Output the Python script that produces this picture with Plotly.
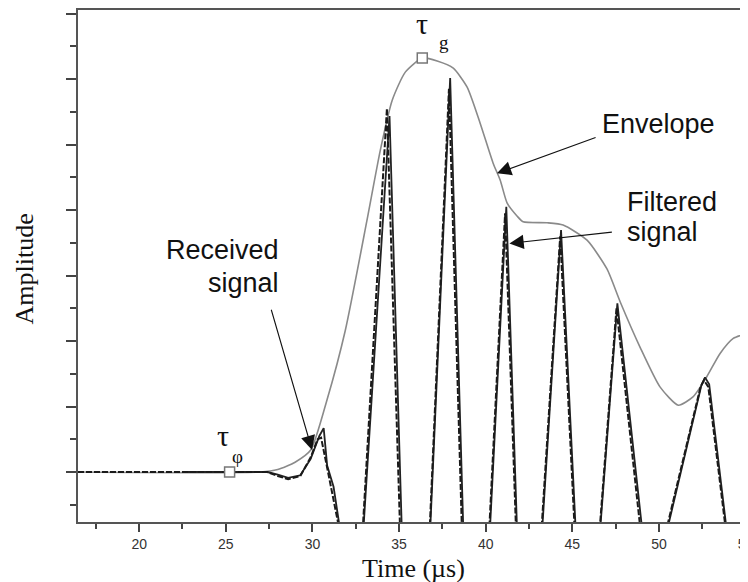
import plotly.graph_objects as go

# ---------------- data ----------------
env_t = [16.47, 27.0, 28.0, 29.0, 29.9, 30.84, 31.9, 33.15, 33.92, 34.61, 35.36, 36.34,
         37.2, 38.13, 38.93, 39.68, 40.43, 40.84, 41.24, 41.82, 42.16, 43.55, 44.47,
         45.85, 47.0, 47.76, 48.92, 50.06, 51.12, 51.98, 52.76, 53.53, 54.29, 55.14]
env_a = [0.0, 0.0, 0.008, 0.03, 0.067, 0.22, 0.433, 0.769, 0.983, 1.136, 1.221, 1.264,
         1.255, 1.233, 1.175, 1.065, 0.943, 0.891, 0.821, 0.781, 0.764, 0.761, 0.754,
         0.708, 0.62, 0.52, 0.38, 0.26, 0.204, 0.23, 0.291, 0.362, 0.408, 0.424]

filt_t = [22.5, 27.4, 28.0, 28.6, 29.3, 29.9, 30.4, 30.65, 30.85, 31.22, 31.55, 32.2,
          32.96, 34.45, 35.15, 36.0,
          36.81, 37.95, 38.7, 39.5,
          40.26, 41.19, 41.8, 42.5,
          43.28, 44.35, 45.18, 45.9,
          46.63, 47.6, 49.0, 49.8,
          50.55, 52.45, 52.66, 52.9, 53.87, 54.6]
filt_a = [0.0, 0.0, -0.008, -0.018, -0.01, 0.04, 0.11, 0.134, 0.02, -0.045, -0.16, -0.6,
          -0.16, 1.087, -0.16, -0.6,
          -0.16, 1.203, -0.16, -0.6,
          -0.16, 0.81, -0.16, -0.6,
          -0.16, 0.739, -0.16, -0.6,
          -0.16, 0.515, -0.16, -0.6,
          -0.16, 0.265, 0.289, 0.268, -0.16, -0.6]

recv_t = [16.47, 27.4, 28.0, 28.6, 29.3, 29.9, 30.3, 30.5, 30.9, 31.5, 32.2,
          32.92, 34.3, 35.05, 36.0,
          36.78, 37.88, 38.62, 39.5,
          40.22, 41.12, 41.74, 42.5,
          43.24, 44.3, 45.12, 45.9,
          46.6, 47.55, 48.9, 49.8,
          50.5, 52.4, 52.6, 52.85, 53.82, 54.6]
recv_a = [0.0, 0.0, -0.012, -0.022, -0.012, 0.045, 0.1, 0.105, 0.0, -0.16, -0.6,
          -0.16, 1.11, -0.16, -0.6,
          -0.16, 1.17, -0.16, -0.6,
          -0.16, 0.79, -0.16, -0.6,
          -0.16, 0.72, -0.16, -0.6,
          -0.16, 0.50, -0.16, -0.6,
          -0.16, 0.26, 0.28, 0.26, -0.16, -0.6]

tau_t = [25.22, 36.34]
tau_a = [0.0, 1.264]

x_ticks = [20, 25, 30, 35, 40, 45, 50, 55]

SANS = "Liberation Sans, Arial, sans-serif"
SERIF = "Liberation Serif, Times New Roman, serif"

fig = go.Figure()
fig.add_trace(go.Scatter(x=env_t, y=env_a, mode="lines",
                         line=dict(color="#8a8a8a", width=1.6, shape="spline", smoothing=0.6),
                         showlegend=False, hoverinfo="skip"))
fig.add_trace(go.Scatter(x=filt_t, y=filt_a, mode="lines",
                         line=dict(color="#222222", width=1.8),
                         showlegend=False, hoverinfo="skip"))
fig.add_trace(go.Scatter(x=recv_t, y=recv_a, mode="lines",
                         line=dict(color="#1a1a1a", width=2, dash="6px,2px"),
                         showlegend=False, hoverinfo="skip"))
fig.add_trace(go.Scatter(x=tau_t, y=tau_a, mode="markers",
                         marker=dict(symbol="square", size=10, color="white",
                                     line=dict(color="#777777", width=1.5)),
                         showlegend=False, hoverinfo="skip"))

ann = []
def txt(x, y, s, size, font=SANS, xanchor="left"):
    ann.append(dict(x=x, y=y, xref="x", yref="y", text=s, showarrow=False,
                    xanchor=xanchor, yanchor="middle",
                    font=dict(family=font, size=size, color="#111111")))

def arrow(tx, ty, sx, sy):
    ann.append(dict(x=tx, y=ty, ax=sx, ay=sy, xref="x", yref="y", axref="x", ayref="y",
                    text="", showarrow=True, arrowhead=2, arrowsize=2.6, arrowwidth=1.1,
                    arrowcolor="#111111", standoff=0))

txt(46.60, 1.062, "Envelope", 27)
arrow(40.65, 0.912, 46.43, 1.023)
txt(48.04, 0.824, "Filtered", 27)
txt(48.04, 0.733, "signal", 27)
arrow(41.37, 0.698, 47.37, 0.733)
txt(28.2, 0.678, "Received", 27, xanchor="right")
txt(28.2, 0.577, "signal", 27, xanchor="right")
arrow(29.98, 0.067, 27.6, 0.50)
txt(36.3, 1.371, "τ", 30, font=SERIF, xanchor="center")
txt(37.58, 1.3126, "g", 19, font=SERIF, xanchor="center")
txt(24.83, 0.112, "τ", 30, font=SERIF, xanchor="center")
txt(25.65, 0.046, "φ", 19, font=SERIF, xanchor="center")

# axis titles
ann.append(dict(x=0.5, y=-0.09, xref="paper", yref="paper", text="Time (µs)",
                showarrow=False, xanchor="center", yanchor="middle",
                font=dict(family=SERIF, size=26, color="#111111")))
ann.append(dict(x=-0.08, y=0.494, xref="paper", yref="paper", text="Amplitude",
                showarrow=False, xanchor="center", yanchor="middle", textangle=-90,
                font=dict(family=SERIF, size=26, color="#111111")))

# the page body adds an 8px offset, so the figure is 8px smaller and shifted
fig.update_layout(
    width=740, height=574,
    margin=dict(l=70, r=0, t=2, b=60),
    paper_bgcolor="white", plot_bgcolor="white",
    annotations=ann,
    xaxis=dict(range=[16.47, 55.14], tickmode="array", tickvals=x_ticks,
               ticks="outside", ticklen=8, tickwidth=1.5, tickcolor="#444444",
               minor=dict(dtick=2.5, tick0=0, ticks="outside", ticklen=5,
                          tickwidth=1.5, tickcolor="#444444"),
               ticklabeloverflow="allow",
               showline=True, linecolor="#555555", linewidth=2, mirror=True,
               showgrid=False, zeroline=False, automargin=False,
               tickfont=dict(family=SANS, size=14, color="#333333")),
    yaxis=dict(range=[-0.1526, 1.4107], tickmode="linear", tick0=0, dtick=0.2,
               ticks="outside", ticklen=10, tickwidth=1.5, tickcolor="#444444",
               minor=dict(dtick=0.1, tick0=0, ticks="outside", ticklen=6,
                          tickwidth=1.5, tickcolor="#444444"),
               showticklabels=False,
               showline=True, linecolor="#555555", linewidth=2, mirror=False,
               showgrid=False, zeroline=False, automargin=False),
)

fig.write_html("out.html")
